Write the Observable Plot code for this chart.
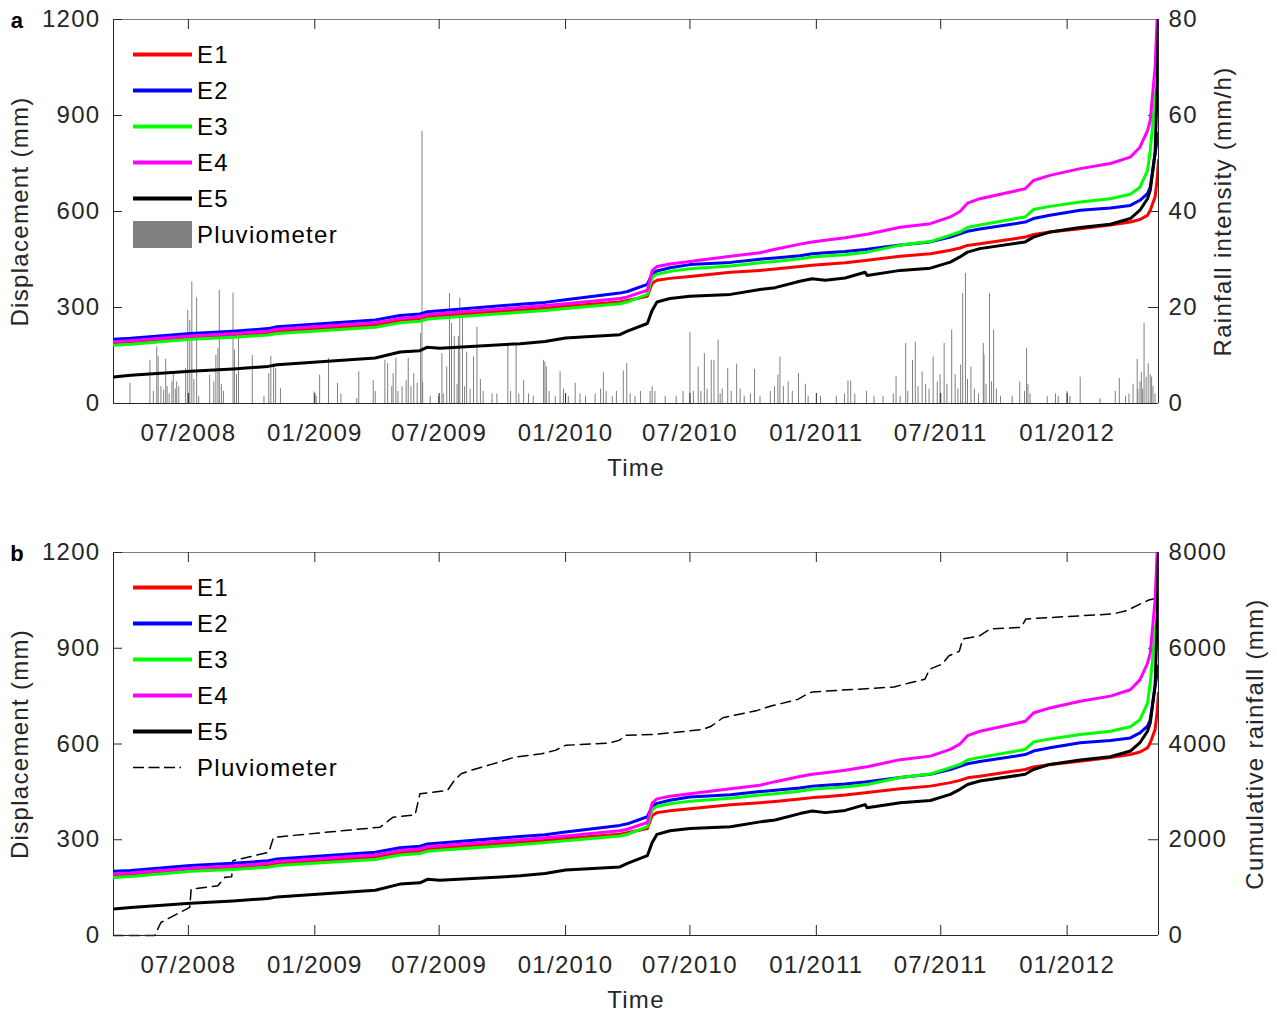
<!DOCTYPE html>
<html>
<head>
<meta charset="utf-8">
<script src="https://cdn.jsdelivr.net/npm/d3@7"></script>
<script src="https://cdn.jsdelivr.net/npm/@observablehq/plot@0.6"></script>
<style>
  body { margin: 0; background: #fff; }
  .panel { position: relative; width: 1277px; }
  .panel svg { position: absolute; left: 0; top: 0; }
</style>
</head>
<body>
<div id="panel-a" class="panel" style="height:500px"></div>
<div id="panel-b" class="panel" style="height:516px"></div>
<script>
// ---------- record period ----------
const recordStart = "2008-03-14";
const recordEnd = "2012-05-13";

// ---------- extensometer displacement (mm) ----------
const obsDates = ["2008-03-14","2008-04-08","2008-07-04","2008-09-04","2008-10-25","2008-11-07","2009-03-30","2009-05-05","2009-06-03","2009-06-14","2009-07-02","2009-10-27","2009-12-02","2010-01-01","2010-03-21","2010-04-01","2010-04-30","2010-05-07","2010-05-14","2010-06-02","2010-07-01","2010-08-29","2010-10-11","2010-11-02","2010-12-08","2010-12-26","2011-01-14","2011-02-12","2011-03-13","2011-03-16","2011-05-03","2011-06-16","2011-07-15","2011-07-29","2011-08-09","2011-08-27","2011-11-01","2011-11-13","2011-12-07","2012-01-20","2012-03-04","2012-04-02","2012-04-16","2012-04-27","2012-05-01","2012-05-08","2012-05-11","2012-05-13"];
const E1 = [188,191,206,213,220,226,245,259,264,271,274,292,298,304,317,322,335,376,385,391,397,410,416,420,428,432,435,440,447,448,460,468,479,486,494,499,520,528,536,546,558,567,575,588,604,645,700,760];
const E2 = [201,204,219,226,234,240,261,275,280,287,290,310,316,324,345,350,372,405,414,424,434,441,451,455,462,468,471,475,481,482,495,505,520,530,538,545,567,578,588,604,611,619,635,656,676,781,820,845];
const E3 = [182,185,201,207,214,219,238,252,257,264,267,285,291,297,312,317,341,395,404,413,421,430,440,444,452,458,461,465,472,473,495,506,526,536,550,558,583,606,616,630,640,654,676,728,791,950,1000,1020];
const E4 = [193,196,211,218,226,232,252,266,271,278,281,300,306,312,328,333,354,415,428,436,444,460,471,482,498,505,510,518,528,529,551,562,583,600,626,640,671,697,713,734,750,770,801,853,885,1050,1200,1260];
const E5 = [83,88,101,108,116,121,142,161,165,176,173,187,194,205,215,226,250,291,317,328,335,341,356,362,382,390,385,392,410,400,416,423,442,458,473,484,505,520,536,550,560,578,604,640,666,782,980,1210];

const seriesNames = ["E1","E2","E3","E4","E5"];
const seriesValues = [E1, E2, E3, E4, E5];
const seriesColors = ["#ff0000","#0000ff","#00ff00","#ff00ff","#000000"];

// ---------- pluviometer ----------
// rainfall intensity events [date, mm/h]
const rainfallIntensity = [
  ["2008-04-07",4.2],["2008-05-06",9.0],["2008-05-11",2.5],["2008-05-16",11.8],["2008-05-18",9.7],
  ["2008-05-22",3.5],["2008-05-26",2.8],["2008-05-29",9.2],["2008-05-31",3.5],["2008-06-03",2.0],
  ["2008-06-07",4.5],["2008-06-09",6.2],["2008-06-12",3.0],["2008-06-14",4.5],["2008-06-17",3.5],
  ["2008-06-27",7.3],["2008-06-30",19.4],["2008-07-03",17.3],["2008-07-06",25.3],["2008-07-09",5.0],
  ["2008-07-13",22.0],["2008-07-16",1.5],["2008-08-01",5.9],["2008-08-07",4.5],["2008-08-10",10.0],
  ["2008-08-13",11.4],["2008-08-15",23.6],["2008-08-18",4.0],["2008-08-21",2.5],["2008-09-04",23.0],
  ["2008-09-06",11.1],["2008-09-09",6.0],["2008-09-12",14.2],["2008-10-02",10.0],["2008-10-19",1.5],
  ["2008-10-26",6.2],["2008-10-29",9.8],["2008-11-02",8.3],["2008-11-05",7.3],["2008-11-12",3.1],
  ["2008-12-31",2.4],["2009-01-03",1.5],["2009-01-08",5.9],["2009-01-21",9.4],["2009-02-03",4.2],
  ["2009-02-08",2.0],["2009-03-03",1.0],["2009-03-06",6.6],["2009-03-27",4.8],["2009-03-30",2.5],
  ["2009-04-13",9.0],["2009-04-17",8.3],["2009-04-23",3.5],["2009-04-25",6.2],["2009-04-29",9.4],
  ["2009-05-02",2.5],["2009-05-08",3.5],["2009-05-14",4.8],["2009-05-17",9.4],["2009-05-21",3.5],
  ["2009-05-25",6.2],["2009-05-30",4.2],["2009-06-04",14.6],["2009-06-06",56.7],["2009-06-07",4.4],
  ["2009-06-18",1.5],["2009-06-30",1.5],["2009-07-05",10.4],["2009-07-07",2.0],["2009-07-12",7.6],
  ["2009-07-16",22.9],["2009-07-19",16.7],["2009-07-23",13.9],["2009-07-27",4.0],["2009-07-29",13.9],
  ["2009-07-31",21.9],["2009-08-04",18.7],["2009-08-07",3.5],["2009-08-10",10.7],["2009-08-15",3.0],
  ["2009-08-20",9.7],["2009-08-25",15.9],["2009-08-30",5.0],["2009-09-03",2.5],["2009-09-16",2.0],
  ["2009-09-23",2.0],["2009-10-09",12.5],["2009-10-13",2.5],["2009-10-21",12.1],["2009-10-25",2.0],
  ["2009-11-01",4.8],["2009-11-08",2.0],["2009-11-15",1.5],["2009-11-30",9.0],["2009-12-02",8.6],
  ["2009-12-04",7.6],["2009-12-08",2.5],["2009-12-17",1.5],["2009-12-24",6.6],["2009-12-29",3.0],
  ["2010-01-05",1.5],["2010-01-15",4.2],["2010-01-22",2.0],["2010-01-30",1.5],["2010-02-13",2.0],
  ["2010-02-21",3.0],["2010-02-25",6.4],["2010-03-01",2.5],["2010-03-10",1.5],["2010-03-16",2.5],
  ["2010-03-26",6.8],["2010-03-31",8.3],["2010-04-05",2.0],["2010-04-12",1.5],["2010-04-20",2.5],
  ["2010-05-04",2.5],["2010-05-07",3.5],["2010-05-11",2.5],["2010-05-26",1.5],["2010-06-11",1.5],
  ["2010-06-21",2.5],["2010-07-01",14.8],["2010-07-06",2.5],["2010-07-13",7.6],["2010-07-17",2.5],
  ["2010-07-22",10.4],["2010-07-26",3.0],["2010-08-01",9.0],["2010-08-05",9.0],["2010-08-11",13.2],
  ["2010-08-14",2.0],["2010-08-17",3.0],["2010-08-25",7.3],["2010-08-30",2.5],["2010-09-07",8.2],
  ["2010-09-12",3.0],["2010-09-18",1.5],["2010-09-27",2.0],["2010-10-03",7.1],["2010-10-11",1.5],
  ["2010-10-26",2.5],["2010-11-01",3.5],["2010-11-06",5.9],["2010-11-09",9.7],["2010-11-14",3.5],
  ["2010-11-21",4.5],["2010-11-27",2.5],["2010-12-06",6.2],["2010-12-16",4.0],["2010-12-20",1.5],
  ["2011-01-07",1.5],["2011-01-30",1.5],["2011-02-11",2.0],["2011-02-16",4.7],["2011-02-20",4.7],
  ["2011-02-26",2.0],["2011-03-15",2.5],["2011-03-26",1.5],["2011-04-08",1.5],["2011-04-23",2.0],
  ["2011-04-27",5.6],["2011-05-03",1.5],["2011-05-11",12.5],["2011-05-14",2.5],["2011-05-21",9.0],
  ["2011-05-25",12.8],["2011-05-29",3.5],["2011-06-04",6.6],["2011-06-09",4.0],["2011-06-14",3.0],
  ["2011-06-20",9.7],["2011-06-26",4.5],["2011-06-30",6.0],["2011-07-06",12.5],["2011-07-10",4.0],
  ["2011-07-17",15.3],["2011-07-22",6.0],["2011-07-26",3.0],["2011-07-30",8.0],["2011-08-02",22.9],
  ["2011-08-06",27.1],["2011-08-09",5.0],["2011-08-14",7.6],["2011-08-19",3.0],["2011-08-25",2.0],
  ["2011-09-01",12.5],["2011-09-02",10.1],["2011-09-05",4.0],["2011-09-10",22.9],["2011-09-13",4.5],
  ["2011-09-16",15.3],["2011-09-20",3.0],["2011-09-26",1.5],["2011-10-13",1.5],["2011-10-24",4.5],
  ["2011-10-31",2.5],["2011-11-03",11.5],["2011-11-05",4.0],["2011-11-08",2.0],["2011-12-03",1.5],
  ["2011-12-15",2.0],["2011-12-19",1.5],["2012-01-01",2.5],["2012-01-05",1.5],["2012-01-20",5.5],
  ["2012-02-18",1.0],["2012-03-11",2.5],["2012-03-17",5.2],["2012-03-26",1.5],["2012-03-31",2.0],
  ["2012-04-06",4.0],["2012-04-12",9.2],["2012-04-13",3.0],["2012-04-16",4.5],["2012-04-18",6.4],
  ["2012-04-20",3.0],["2012-04-22",16.7],["2012-04-25",5.5],["2012-04-28",8.3],["2012-05-01",6.0],
  ["2012-05-03",5.5],["2012-05-05",3.5],["2012-05-08",2.0]
];

// cumulative rainfall [date, mm]
const cumulativeRainfall = [
  ["2008-03-14",0],["2008-05-13",0],["2008-05-22",272],["2008-06-03",363],["2008-06-16",461],
  ["2008-07-03",586],["2008-07-05",970],["2008-08-13",1040],["2008-08-23",1215],["2008-09-02",1228],
  ["2008-09-04",1564],["2008-10-26",1738],["2008-11-02",2052],["2009-04-06",2262],["2009-04-25",2471],
  ["2009-05-27",2520],["2009-06-03",2960],["2009-07-13",3029],["2009-07-23",3239],["2009-08-02",3378],
  ["2009-08-16",3448],["2009-09-15",3574],["2009-10-04",3658],["2009-10-19",3727],["2009-11-27",3797],
  ["2009-12-17",3867],["2010-01-01",3972],["2010-03-06",4021],["2010-03-20",4076],["2010-03-30",4181],
  ["2010-05-10",4199],["2010-07-19",4303],["2010-08-01",4372],["2010-08-18",4548],["2010-10-07",4702],
  ["2010-10-27",4792],["2010-12-05",4932],["2010-12-18",5037],["2010-12-26",5087],["2011-03-15",5156],
  ["2011-04-24",5191],["2011-05-19",5284],["2011-06-08",5353],["2011-06-15",5564],["2011-07-03",5668],
  ["2011-07-13",5844],["2011-07-28",5934],["2011-08-02",6193],["2011-08-27",6262],["2011-09-11",6402],
  ["2011-10-26",6437],["2011-11-02",6613],["2012-03-08",6717],["2012-03-28",6788],["2012-04-17",6928],
  ["2012-04-30",7012],["2012-05-13",7050]
];

// ---------- axes ----------
const timeTicks = ["2008-07-01","2009-01-01","2009-07-01","2010-01-01","2010-07-01","2011-01-01","2011-07-01","2012-01-01"];
const displacementTicks = [0, 300, 600, 900, 1200];
const intensityTicks = [0, 20, 40, 60, 80];
const cumulativeTicks = [0, 2000, 4000, 6000, 8000];

// ---------- drawing ----------
const W = 1277;
const M_LEFT = 113, M_RIGHT = 119;
const FRAME_W = W - M_LEFT - M_RIGHT;
const FONT = '"Liberation Sans", Arial, Helvetica, sans-serif';
const FS = 24;
const SPACING = "1.3px";
const INK = "#262626";
const parseDay = d3.utcParse("%Y-%m-%d");
const X_DOMAIN = [parseDay(recordStart), parseDay(recordEnd)];
const tickDates = timeTicks.map(parseDay);
const plainNumber = d3.format("d");

const displacement = seriesNames.map((name, k) =>
  obsDates.map((d, i) => ({name, date: parseDay(d), value: seriesValues[k][i]})));

function baseOptions(height, marginTop, marginBottom) {
  return {
    width: W, height, marginLeft: M_LEFT, marginRight: M_RIGHT, marginTop, marginBottom,
    x: {type: "utc", domain: X_DOMAIN, axis: null},
    style: {background: "transparent", fontFamily: FONT, fontSize: FS + "px", color: INK,
      overflow: "visible", letterSpacing: SPACING}
  };
}

// rotated axis title centred along a vertical frame edge
function sideTitle(label, side, dx) {
  return Plot.text([label], {frameAnchor: side, dx, rotate: -90, fontSize: FS, fill: INK,
    textAnchor: "middle", lineAnchor: "middle"});
}

function buildPanel(el, cfg) {
  const frameH = cfg.height - cfg.marginTop - cfg.marginBottom;
  const base = baseOptions(cfg.height, cfg.marginTop, cfg.marginBottom);

  // right-hand (rainfall) layer
  const rain = Plot.plot({
    ...base,
    y: {domain: cfg.rightDomain, axis: null},
    marks: [
      ...cfg.rainMarks,
      Plot.ruleX([X_DOMAIN[1]], {stroke: INK, strokeWidth: 1}),
      Plot.tickY(cfg.rightTicks, {y: d => d, stroke: INK, insetLeft: FRAME_W - 10}),
      Plot.axisY(cfg.rightTicks, {anchor: "right", tickSize: 0, tickPadding: 10, label: null,
        tickFormat: plainNumber, fontSize: FS, color: INK}),
      sideTitle(cfg.rightLabel, "right", cfg.rightLabelDx)
    ]
  });

  // left-hand (displacement) layer
  const disp = Plot.plot({
    ...base,
    y: {domain: [0, 1200], axis: null},
    marks: [
      Plot.ruleY([1200], {stroke: "#808080", strokeWidth: 1}),
      Plot.ruleY([0], {stroke: INK, strokeWidth: 1}),
      Plot.ruleX([X_DOMAIN[0]], {stroke: INK, strokeWidth: 1}),
      Plot.tickX(tickDates, {x: d => d, stroke: INK, insetTop: frameH - 10}),
      Plot.tickX(tickDates, {x: d => d, stroke: INK, insetBottom: frameH - 10}),
      Plot.tickY(displacementTicks, {y: d => d, stroke: INK, insetRight: FRAME_W - 9}),
      Plot.axisX(tickDates, {tickFormat: d3.utcFormat("%m/%Y"), tickSize: 0, tickPadding: 20,
        label: null, fontSize: FS, color: INK}),
      Plot.axisY(displacementTicks, {anchor: "left", tickSize: 0, tickPadding: 13, label: null,
        tickFormat: plainNumber, fontSize: FS, color: INK}),
      sideTitle("Displacement (mm)", "left", -93),
      Plot.text(["Time"], {frameAnchor: "bottom", dy: 65, fontSize: FS, fill: INK,
        textAnchor: "middle", lineAnchor: "middle"}),
      Plot.text([cfg.letter], {frameAnchor: "top-left", dx: -96, dy: 1, fontSize: 22,
        fontWeight: "bold", fill: "#000", textAnchor: "middle", lineAnchor: "middle"}),
      ...displacement.map((rows, k) => Plot.line(rows, {
        x: "date", y: "value", stroke: seriesColors[k], strokeWidth: 3,
        strokeLinejoin: "round", clip: true
      }))
    ]
  });

  el.appendChild(rain);
  el.appendChild(disp);

  // legend box in the upper-left corner of the frame
  const lg = d3.select(el).append("svg")
    .attr("width", W).attr("height", cfg.height)
    .style("font-family", FONT).style("font-size", FS + "px").style("letter-spacing", SPACING);
  const x0 = M_LEFT + 20, x1 = M_LEFT + 79;
  const rowY = i => cfg.marginTop + 35.5 + 36 * i;
  seriesNames.forEach((name, i) => {
    lg.append("line").attr("x1", x0).attr("x2", x1).attr("y1", rowY(i)).attr("y2", rowY(i))
      .attr("stroke", seriesColors[i]).attr("stroke-width", 4);
    lg.append("text").attr("x", x1 + 5).attr("y", rowY(i)).attr("dy", "0.36em").attr("fill", "#000").text(name);
  });
  const yp = rowY(5);
  if (cfg.pluvioStyle === "bar") {
    lg.append("rect").attr("x", x0).attr("y", yp - 13.5).attr("width", x1 - x0).attr("height", 27)
      .attr("fill", "#808080");
  } else {
    lg.append("line").attr("x1", x0).attr("x2", x1).attr("y1", yp).attr("y2", yp)
      .attr("stroke", "#000").attr("stroke-width", 1.5).attr("stroke-dasharray", "11,4.5,11,4.5,11,4.5,1.5,30");
  }
  lg.append("text").attr("x", x1 + 5).attr("y", yp).attr("dy", "0.36em").attr("fill", "#000").text("Pluviometer");
}

buildPanel(document.getElementById("panel-a"), {
  letter: "a", height: 500, marginTop: 19, marginBottom: 97,
  rightDomain: [0, 80], rightTicks: intensityTicks,
  rightLabel: "Rainfall intensity (mm/h)", rightLabelDx: 65,
  pluvioStyle: "bar",
  rainMarks: [
    Plot.ruleX(rainfallIntensity, {x: d => parseDay(d[0]), y1: 0, y2: d => d[1],
      stroke: "#808080", strokeWidth: 1})
  ]
});

buildPanel(document.getElementById("panel-b"), {
  letter: "b", height: 516, marginTop: 52, marginBottom: 81,
  rightDomain: [0, 8000], rightTicks: cumulativeTicks,
  rightLabel: "Cumulative rainfall (mm)", rightLabelDx: 97,
  pluvioStyle: "dash",
  rainMarks: [
    Plot.line(cumulativeRainfall, {x: d => parseDay(d[0]), y: d => d[1],
      stroke: "#000", strokeWidth: 1.5, strokeDasharray: "10,6"})
  ]
});
</script>
</body>
</html>
